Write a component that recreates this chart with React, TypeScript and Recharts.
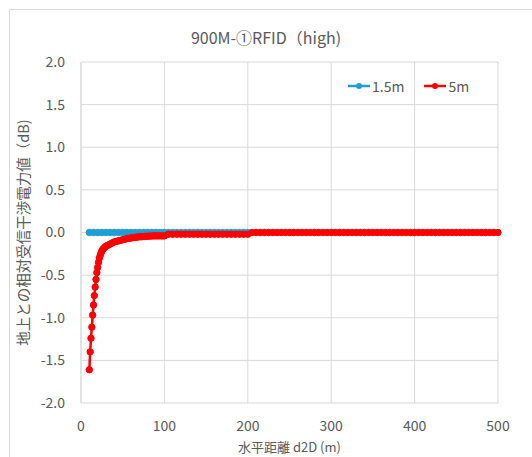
import { LineChart, Line, XAxis, YAxis, CartesianGrid } from 'recharts';

const FONT = '"Noto Sans CJK JP", "Noto Sans", sans-serif';
const TEXT = '#595959';
const BLUE = '#1F9ED6';
const RED = '#FF0000';

const xTicks = [0, 100, 200, 300, 400, 500];
const yTicks = [-2, -1.5, -1, -0.5, 0, 0.5, 1, 1.5, 2];

// 1.5m: 10m..200m, flat at 0 dB
const dist15 = [
  10, 15, 20, 25, 30, 35, 40, 45, 50, 55, 60, 65, 70, 75, 80, 85, 90, 95, 100, 105,
  110, 115, 120, 125, 130, 135, 140, 145, 150, 155, 160, 165, 170, 175, 180, 185, 190, 195, 200,
];
const val15 = [
  0, 0, 0, 0, 0, 0, 0, 0, 0, 0, 0, 0, 0, 0, 0, 0, 0, 0, 0, 0,
  0, 0, 0, 0, 0, 0, 0, 0, 0, 0, 0, 0, 0, 0, 0, 0, 0, 0, 0,
];

// 5m: 10m..500m
const dist5 = [
  10, 11, 12, 13, 14, 15, 16, 17, 18, 19, 20, 21, 22, 23, 24, 25, 26, 27, 28, 29, 30,
  32, 34, 36, 38, 40, 42, 44, 46, 48, 50, 52, 54, 56, 58, 60, 62, 64, 66, 68, 70,
  72, 74, 76, 78, 80, 82, 84, 86, 88, 90, 92, 94, 96, 98, 100,
  105, 110, 115, 120, 125, 130, 135, 140, 145, 150, 155, 160, 165, 170, 175, 180, 185, 190, 195, 200,
  205, 210, 215, 220, 225, 230, 235, 240, 245, 250, 255, 260, 265, 270, 275, 280, 285, 290, 295, 300,
  305, 310, 315, 320, 325, 330, 335, 340, 345, 350, 355, 360, 365, 370, 375, 380, 385, 390, 395, 400,
  405, 410, 415, 420, 425, 430, 435, 440, 445, 450, 455, 460, 465, 470, 475, 480, 485, 490, 495, 500,
];
const val5 = [
  -1.61, -1.4, -1.24, -1.11, -0.97, -0.85, -0.74, -0.64, -0.55, -0.47, -0.41, -0.35, -0.3, -0.27, -0.24, -0.22, -0.2, -0.19, -0.18, -0.17, -0.16,
  -0.15, -0.14, -0.13, -0.12, -0.11, -0.105, -0.1, -0.095, -0.09, -0.085, -0.08, -0.075, -0.07, -0.067, -0.064, -0.06, -0.058, -0.055, -0.053, -0.05,
  -0.05, -0.048, -0.046, -0.045, -0.044, -0.042, -0.042, -0.04, -0.04, -0.04, -0.04, -0.04, -0.04, -0.04, -0.04,
  -0.02, -0.02, -0.02, -0.02, -0.02, -0.02, -0.02, -0.02, -0.02, -0.02, -0.02, -0.02, -0.02, -0.02, -0.02, -0.02, -0.02, -0.02, -0.02, -0.02,
  0, 0, 0, 0, 0, 0, 0, 0, 0, 0, 0, 0, 0, 0, 0, 0, 0, 0, 0, 0,
  0, 0, 0, 0, 0, 0, 0, 0, 0, 0, 0, 0, 0, 0, 0, 0, 0, 0, 0, 0,
  0, 0, 0, 0, 0, 0, 0, 0, 0, 0, 0, 0, 0, 0, 0, 0, 0, 0, 0, 0,
];

const data15 = dist15.map((d, i) => ({ d, v: val15[i] }));
const data5 = dist5.map((d, i) => ({ d, v: val5[i] }));

function LegendBox() {
  const item = (color: string, label: string) => (
    <div style={{ display: 'flex', alignItems: 'center', marginRight: 20 }}>
      <svg width={22} height={10}>
        <line x1={0} y1={5} x2={22} y2={5} stroke={color} strokeWidth={2.5} />
        <circle cx={11} cy={5} r={3} fill={color} />
      </svg>
      <span style={{ marginLeft: 2 }}>{label}</span>
    </div>
  );
  return (
    <div
      style={{
        position: 'absolute', left: 348, top: 76, display: 'flex',
        fontFamily: FONT, fontSize: 14, color: TEXT,
      }}
    >
      {item(BLUE, '1.5m')}
      {item(RED, '5m')}
    </div>
  );
}

export default function App() {
  return (
    <div style={{ position: 'absolute', left: 0, top: 0, width: 532, height: 457, overflow: 'hidden', background: '#fff' }}>
      <div style={{ position: 'absolute', left: 9, top: 9, width: 600, height: 600, border: '1px solid #d9d9d9' }} />
      <div
        style={{
          position: 'absolute', left: 0, top: 25, width: 532, textAlign: 'center',
          fontFamily: FONT, fontSize: 16, color: TEXT,
        }}
      >
        900M-①RFID（high)
      </div>
      <div style={{ position: 'absolute', left: 0, top: 0 }}>
        <LineChart width={532} height={457} margin={{ top: 62, right: 34, bottom: 0, left: 0 }}>
          <CartesianGrid stroke="#d9d9d9" />
          <XAxis
            type="number"
            dataKey="d"
            domain={[0, 500]}
            ticks={xTicks}
            axisLine={false}
            tickLine={false}
            tickSize={0}
            tickMargin={18}
            height={54}
            tick={{ fill: TEXT, fontSize: 14, fontFamily: FONT }}
            allowDuplicatedCategory={false}
            label={{
              content: ({ viewBox }: any) => (
                <text
                  x={viewBox.x + viewBox.width / 2}
                  y={452}
                  textAnchor="middle"
                  fill={TEXT}
                  fontSize={13}
                  fontFamily={FONT}
                >
                  水平距離 d2D (m)
                </text>
              ),
            }}
          />
          <YAxis
            type="number"
            domain={[-2, 2]}
            ticks={yTicks}
            width={81}
            axisLine={{ stroke: '#d9d9d9' }}
            tickLine={false}
            tickSize={0}
            tickMargin={16}
            tickFormatter={(v: number) => v.toFixed(1)}
            tick={{ fill: TEXT, fontSize: 14, fontFamily: FONT }}
            label={{
              content: ({ viewBox }: any) => {
                const cy = viewBox.y + viewBox.height / 2;
                return (
                  <text
                    x={29}
                    y={cy}
                    transform={`rotate(-90, 29, ${cy})`}
                    textAnchor="middle"
                    fill={TEXT}
                    fontSize={14.5}
                    fontFamily={FONT}
                  >
                    地上との相対受信干渉電力値（dB)
                  </text>
                );
              },
            }}
          />
          <Line
            data={data15}
            dataKey="v"
            name="1.5m"
            stroke={BLUE}
            strokeWidth={3}
            dot={{ r: 3.2, fill: BLUE, stroke: BLUE, strokeWidth: 1 }}
            isAnimationActive={false}
          />
          <Line
            data={data5}
            dataKey="v"
            name="5m"
            stroke={RED}
            strokeWidth={2.5}
            dot={{ r: 3.2, fill: RED, stroke: RED, strokeWidth: 1 }}
            isAnimationActive={false}
          />
        </LineChart>
      </div>
      <LegendBox />
    </div>
  );
}
